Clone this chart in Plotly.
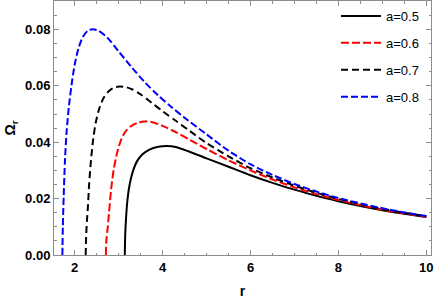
import plotly.graph_objects as go

# a = 0.5 (solid black)
r_a05 = [3.14, 3.15, 3.17, 3.20, 3.25, 3.32, 3.42, 3.55, 3.70, 3.90, 4.10, 4.30, 4.60,
         5.00, 5.50, 6.00, 6.50, 7.00, 7.50, 8.00, 8.50, 9.00, 9.50, 10.0]
w_a05 = [0.0, 0.0075, 0.0135, 0.0195, 0.0250, 0.0295, 0.0333, 0.0358, 0.0374, 0.0384, 0.0387,
         0.0383, 0.0367, 0.0343, 0.0313, 0.0283, 0.0256, 0.0232, 0.0210, 0.0191, 0.0174,
         0.0159, 0.0146, 0.01345]

# a = 0.6 (red dashed)
r_a06 = [2.71, 2.72, 2.75, 2.78, 2.83, 2.89, 2.97, 3.06, 3.15, 3.30, 3.45, 3.60, 3.75, 4.00,
         4.30, 4.60, 5.00, 5.50, 6.00, 6.50, 7.00, 7.50, 8.00, 8.50, 9.00, 9.50, 10.0]
w_a06 = [0.0, 0.0050, 0.0095, 0.0148, 0.0235, 0.0305, 0.0365, 0.0410, 0.0437, 0.0459, 0.0470,
         0.0474, 0.0472, 0.0458, 0.0436, 0.0410, 0.0376, 0.0336, 0.0300, 0.0268, 0.0240,
         0.0216, 0.0195, 0.0177, 0.0161, 0.0148, 0.0136]

# a = 0.7 (black dashed)
r_a07 = [2.25, 2.26, 2.28, 2.30, 2.33, 2.37, 2.42, 2.48, 2.56, 2.66, 2.78, 2.90, 3.02, 3.15,
         3.30, 3.50, 3.75, 4.00, 4.30, 4.60, 5.00, 5.50, 6.00, 6.50, 7.00, 7.50, 8.00, 8.50,
         9.00, 9.50, 10.0]
w_a07 = [0.0, 0.0065, 0.0125, 0.0170, 0.0255, 0.0335, 0.0410, 0.0470, 0.0520, 0.0558, 0.0582,
         0.0594, 0.0598, 0.0596, 0.0588, 0.0570, 0.0540, 0.0510, 0.0476, 0.0442, 0.0397,
         0.0350, 0.0308, 0.0275, 0.0246, 0.0221, 0.0199, 0.0181, 0.0164, 0.0150, 0.0137]

# a = 0.8 (blue dashed)
r_a08 = [1.72, 1.73, 1.75, 1.78, 1.82, 1.87, 1.93, 2.00, 2.08, 2.18, 2.30, 2.42, 2.55, 2.75,
         3.00, 3.30, 3.60, 3.90, 4.20, 4.50, 5.00, 5.50, 6.00, 6.50, 7.00, 7.50, 8.00, 8.50,
         9.00, 9.50, 10.0]
w_a08 = [0.0, 0.0100, 0.0210, 0.0340, 0.0445, 0.0530, 0.0605, 0.0675, 0.0730, 0.0772, 0.0796,
         0.0801, 0.0795, 0.0770, 0.0722, 0.0665, 0.0612, 0.0566, 0.0525, 0.0487, 0.0428,
         0.0370, 0.0322, 0.0284, 0.0252, 0.0225, 0.0202, 0.0183, 0.0166, 0.0151, 0.0138]

labels = ["a=0.5", "a=0.6", "a=0.7", "a=0.8"]

FONT = "Liberation Sans"

fig = go.Figure()
series = [
    (r_a05, w_a05, labels[0], "black", "solid"),
    (r_a06, w_a06, labels[1], "#ff0000", "8px,3px"),
    (r_a07, w_a07, labels[2], "black", "7px,4px"),
    (r_a08, w_a08, labels[3], "#0000ff", "7px,3px"),
]
for i, (x, y, name, col, dash) in enumerate(series):
    fig.add_trace(go.Scatter(
        x=x, y=y, name=name, mode="lines", legendgroup=f"g{i}",
        line=dict(color=col, width=2, dash=dash, shape="spline", smoothing=0.8),
    ))

axis_common = dict(
    showline=True, linecolor="#8c8c8c", linewidth=1, mirror="ticks",
    ticks="inside", ticklen=5, tickcolor="#8c8c8c", tickwidth=1,
    showgrid=False, zeroline=False, automargin=False,
    ticklabeloverflow="allow",
    tickfont=dict(family=FONT, size=13, color="black", weight="bold"),
)

fig.update_xaxes(
    range=[1.529, 10.107], tickvals=[2, 4, 6, 8, 10],
    minor=dict(dtick=0.5, tick0=0, ticks="inside", ticklen=2.5, tickcolor="#8c8c8c", showgrid=False),
    title=dict(text="<b>r</b>", font=dict(family=FONT, size=14, color="black"), standoff=12),
    **axis_common,
)
fig.update_yaxes(
    range=[0, 0.0901], tickvals=[0, 0.02, 0.04, 0.06, 0.08], tickformat=".2f",
    minor=dict(dtick=0.005, tick0=0, ticks="inside", ticklen=2.5, tickcolor="#8c8c8c", showgrid=False),
    title=dict(text="<b>Ω<sub>r</sub></b>", font=dict(family=FONT, size=14, color="black"), standoff=6),
    **axis_common,
)

fig.update_layout(
    width=436, height=305,
    margin=dict(l=54, r=5, t=1, b=50),
    plot_bgcolor="white", paper_bgcolor="white",
    showlegend=True,
    legend=dict(
        x=0.748, y=1.0, xanchor="left", yanchor="top",
        font=dict(family=FONT, size=13, color="black"),
        bgcolor="rgba(255,255,255,0)", tracegroupgap=7,
        itemwidth=40,
    ),
)

fig.write_html("out.html", config={"displayModeBar": False},
               post_script="document.body.style.margin='0';")
